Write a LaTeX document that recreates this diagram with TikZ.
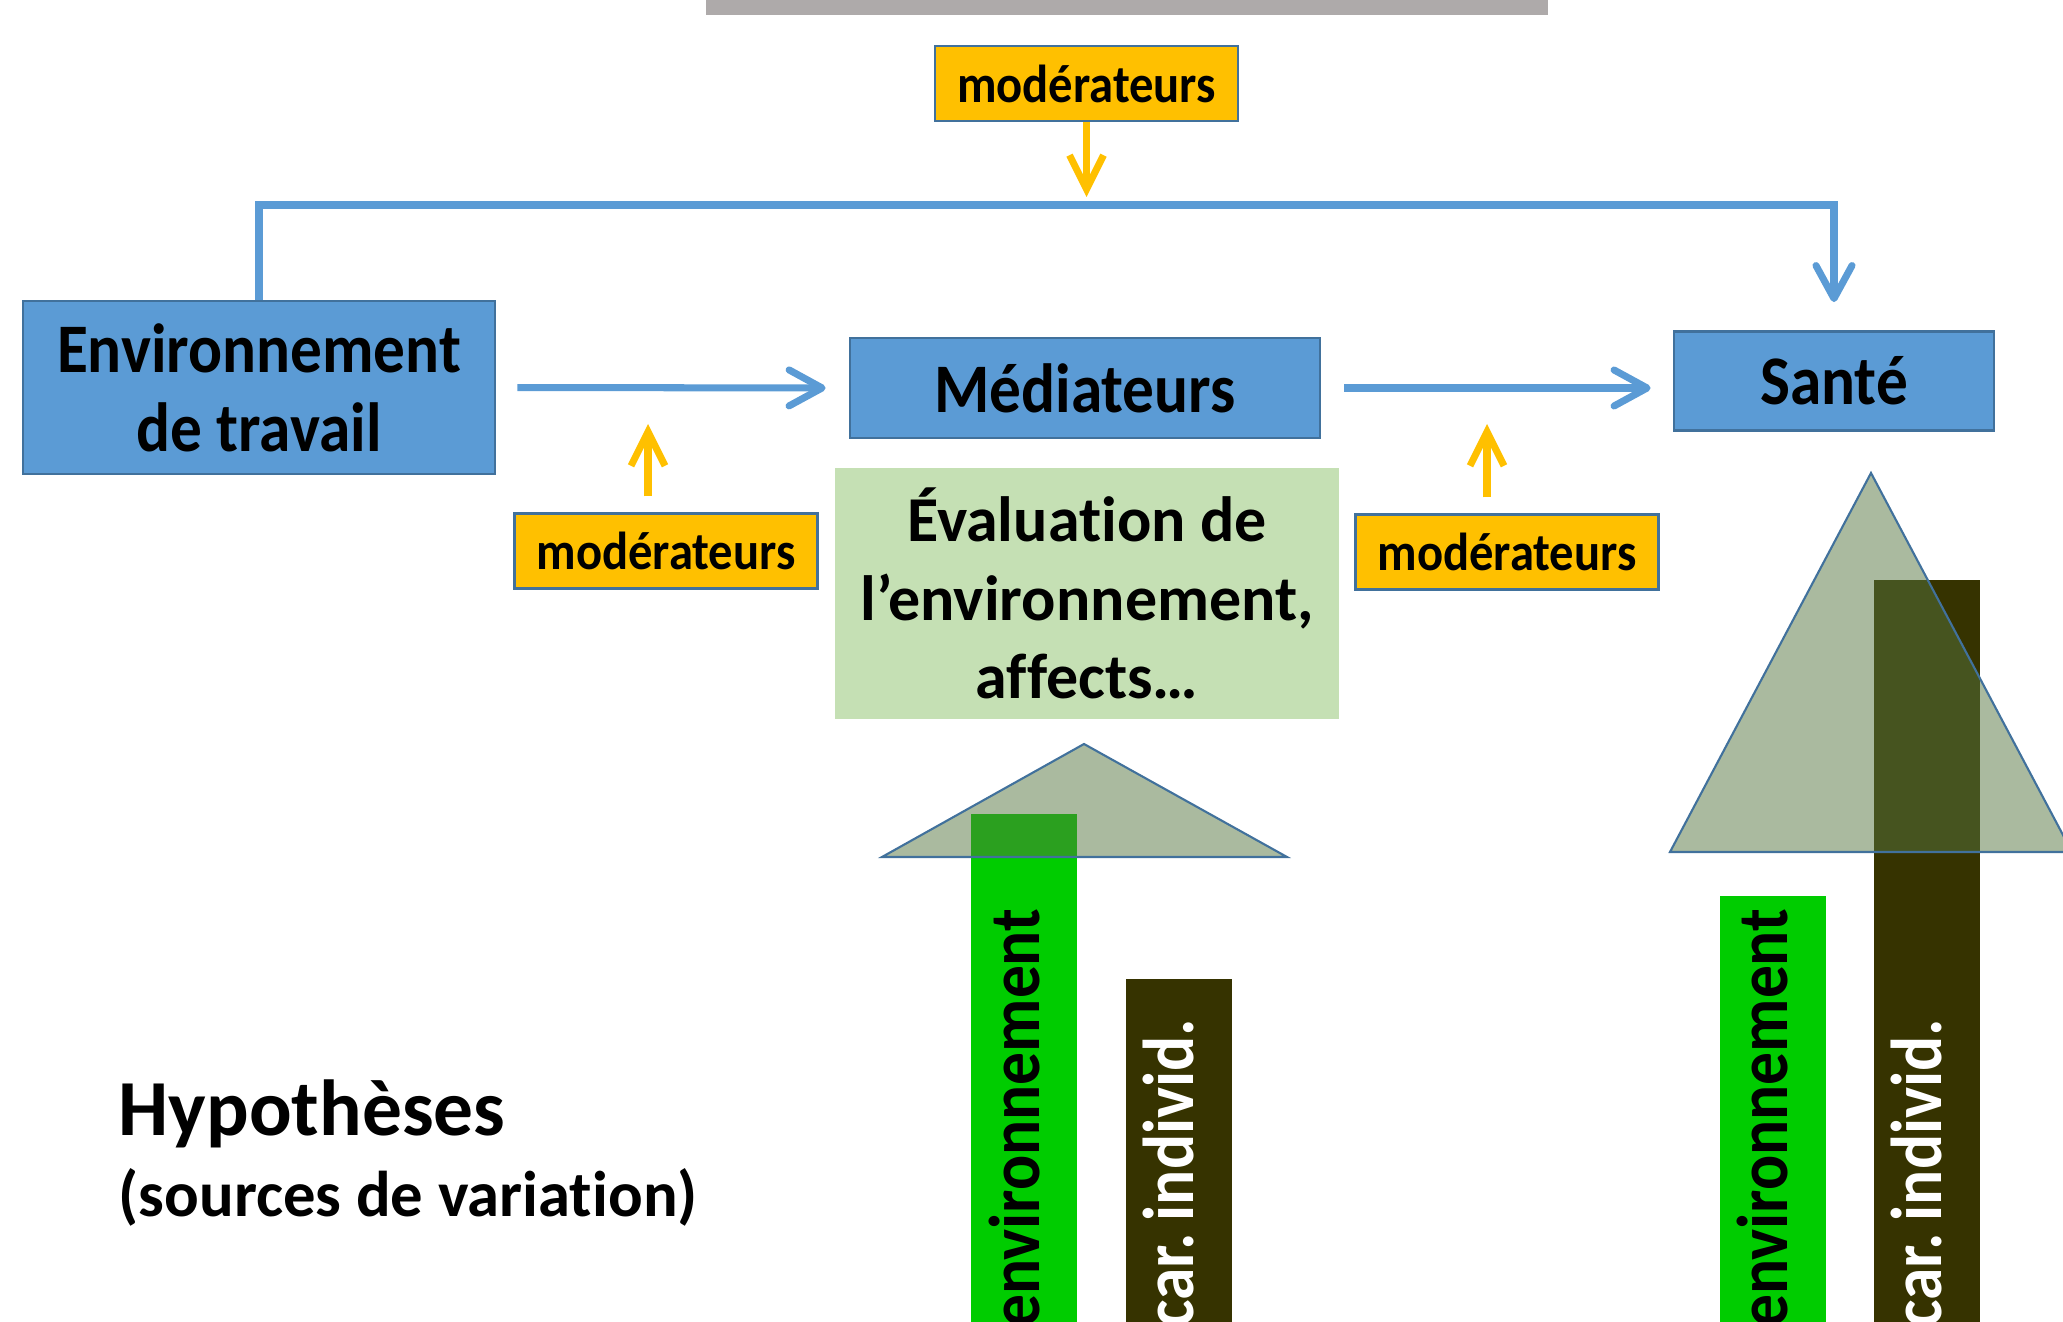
\documentclass[tikz,border=0pt]{standalone}
\usepackage{fontspec}
\setmainfont{Carlito}[Ligatures=NoCommon]
\newfontfamily\narrowfont[FakeStretch=0.91, Ligatures=NoCommon]{Carlito}
\usetikzlibrary{arrows.meta}

\definecolor{boxblue}{HTML}{5B9BD5}
\definecolor{edgeblue}{HTML}{41719C}
\definecolor{modyellow}{HTML}{FFC000}
\definecolor{evalgreen}{HTML}{C5E0B4}
\definecolor{envgreen}{HTML}{00CC00}
\definecolor{indivbrown}{HTML}{363300}
\definecolor{hillgreen}{HTML}{56763F}
\definecolor{topgray}{HTML}{AEAAAA}

\begin{document}
\begin{tikzpicture}[
    bluebox/.style={draw=edgeblue, line width=0.8pt, fill=boxblue, align=center, inner sep=0pt,
        font=\narrowfont\bfseries\fontsize{19.8}{22.5}\selectfont},
    modbox/.style={draw=edgeblue, line width=0.6pt, fill=modyellow, inner sep=0pt,
        minimum width=3.03cm, minimum height=0.75cm, font=\narrowfont\bfseries\fontsize{15.2}{18}\selectfont},
    bluearrow/.style={draw=boxblue, line width=2pt, -{Straight Barb[length=3.3mm, width=3.6mm, round]}},
    yellowarrow/.style={draw=modyellow, line width=2pt, -{Straight Barb[length=3.4mm, width=3.4mm]}},
    bartext/.style={rotate=90, anchor=mid east, inner sep=0pt, font=\narrowfont\bfseries\fontsize{20.5}{24}\selectfont},
    hill/.style={draw=edgeblue, line width=0.6pt, fill=hillgreen, fill opacity=0.5}
]
            \useasboundingbox (0, 0) rectangle (20.63, 13.21);
            \clip (0, 0) rectangle (20.63, 13.21);

            % grey box cut by the top edge
            \fill[topgray] (7.06, 13.06) rectangle (15.48, 13.5);

            % main chain
            \node[bluebox, minimum width=4.72cm, minimum height=1.73cm] (env) at (2.59, 9.335) {Environnement\\de travail};
            \node[bluebox, minimum width=4.70cm, minimum height=1.00cm] (med) at (10.85, 9.33) {Médiateurs};
            \node[bluebox, minimum width=3.20cm, minimum height=0.99cm] (sante) at (18.34, 9.40) {Santé};

            \node[fill=evalgreen, minimum width=5.04cm, minimum height=2.51cm, align=center,
                font=\bfseries\fontsize{18.2}{22.4}\selectfont] (eval) at (10.87, 7.275)
                {Évaluation de\\l’environnement,\\affects…};

            \node[modbox] (modtop) at (10.865, 12.375) {modérateurs};
            \node[modbox] (modleft) at (6.66, 7.70) {modérateurs};
            \node[modbox] (modright) at (15.07, 7.69) {modérateurs};

            \coordinate (corner) at (18.34, 11.16);
            \coordinate (lefttip) at (6.48, 8.97);
            \coordinate (righttip) at (14.87, 8.97);

            \draw[bluearrow, shorten >=0.28cm] (env.north) |- (corner) -- (sante.north);
            \draw[bluearrow, shorten <=0.21cm, shorten >=0.23cm] (env.east) -- (med.west);
            \draw[bluearrow, shorten <=0.23cm, shorten >=0.22cm] (med.east) -- (med.east -| sante.west);

            \draw[yellowarrow, shorten >=0.08cm] (modtop.south) -- (modtop.south |- corner);
            \draw[yellowarrow, shorten <=0.16cm] (modleft.north -| lefttip) -- (lefttip);
            \draw[yellowarrow, shorten <=0.16cm] (modright.north -| righttip) -- (righttip);

            % sources of variation, bars then hills
            \fill[envgreen] (9.71, -0.2) rectangle (10.77, 5.07);
            \fill[indivbrown] (11.26, -0.2) rectangle (12.32, 3.42);
            \fill[envgreen] (17.20, -0.2) rectangle (18.26, 4.25);
            \fill[indivbrown] (18.74, -0.2) rectangle (19.80, 7.41);

            \filldraw[hill] (8.82, 4.64) -- (10.84, 5.77) -- (12.87, 4.64) -- cycle;
            \filldraw[hill] (16.70, 4.69) -- (18.71, 8.48) -- (20.72, 4.69) -- cycle;

            \node[bartext] (envone) at (10.31, 4.13) {environnement};
            \node[bartext, text=white] (carone) at (11.85, 3.03) {car.\,individ.};
            \node[bartext] (envtwo) at (17.79, 4.13) {environnement};
            \node[bartext, text=white] (cartwo) at (19.33, 3.03) {car.\,individ.};

            \node[anchor=base west, inner sep=0pt, font=\bfseries\fontsize{22.6}{27}\selectfont] (hyp) at (1.18, 1.86) {Hypothèses};
            \node[anchor=base west, inner sep=0pt, font=\bfseries\fontsize{18.4}{22}\selectfont] (sources) at (1.18, 1.05) {(sources de variation)};
        \end{tikzpicture}
\end{document}
